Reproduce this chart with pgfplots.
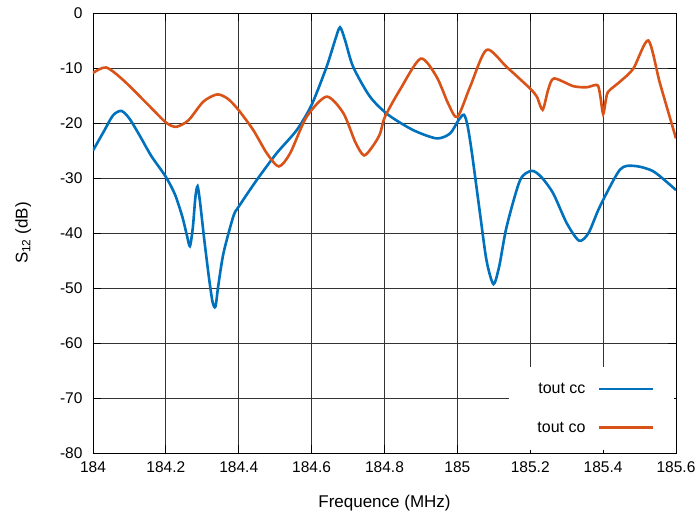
\documentclass[border=0pt]{standalone}
\usepackage{fontspec}
\setmainfont{Liberation Sans}
\usepackage{pgfplots}
\pgfplotsset{compat=1.18}
\usetikzlibrary{calc}
\definecolor{cblue}{RGB}{0,114,189}
\definecolor{corange}{RGB}{217,83,25}
\begin{document}
\begin{tikzpicture}
\begin{axis}[
  scale only axis,
  width=583pt, height=440pt,
  xmin=184, xmax=185.6, ymin=-80, ymax=0,
  xtick={184,184.2,184.4,184.6,184.8,185,185.2,185.4,185.6},
  ytick={-80,-70,-60,-50,-40,-30,-20,-10,0},
  /pgf/number format/assume math mode=true,
  xticklabel style={/pgf/number format/fixed,/pgf/number format/precision=1, yshift=-5pt},
  yticklabel style={xshift=-7pt},
  tick label style={font=\fontsize{15.5}{18}\selectfont},
  label style={font=\fontsize{17}{20}\selectfont},
  xlabel={Frequence (MHz)},
  ylabel={S\textsubscript{12} (dB)},
  xlabel style={yshift=-16pt},
  ylabel style={yshift=22pt},
  grid=major,
  major grid style={black!80, line width=0.8pt},
  axis line style={black, line width=0.9pt},
  tick style={black, line width=0.9pt},
  tick align=inside,
  major tick length=8pt,
  legend style={at={(0.997,0.196)}, anchor=north east, draw=none, fill=white,
    font=\fontsize{16}{19}\selectfont, inner xsep=20pt, inner ysep=14pt,
    row sep=23pt, column sep=10pt},
  legend plot pos=right,
  legend cell align=right,
  legend image code/.code={\draw[#1] (0pt,0pt) -- (54pt,0pt);},
]
\addplot[cblue, line width=2.6pt, smooth, tension=0.45] coordinates {
(184.000,-25.0) (184.030,-21.5) (184.055,-18.6) (184.078,-17.8) (184.100,-19.2)
(184.130,-22.5) (184.160,-26.0) (184.200,-29.8) (184.225,-33.0) (184.245,-37.0)
(184.258,-40.5) (184.266,-42.4) (184.274,-39.0) (184.281,-33.5) (184.287,-31.5)
(184.294,-34.5) (184.305,-41.0) (184.318,-48.0) (184.328,-52.5) (184.336,-53.4)
(184.344,-49.5) (184.358,-43.7) (184.385,-37.0) (184.400,-35.2) (184.449,-30.4)
(184.504,-25.5) (184.559,-21.3) (184.600,-16.7) (184.641,-9.8) (184.665,-4.8)
(184.678,-2.6) (184.692,-5.0) (184.714,-9.8) (184.760,-15.2) (184.810,-18.5)
(184.879,-21.3) (184.943,-22.8) (184.980,-21.9) (185.003,-19.5) (185.018,-18.5)
(185.028,-20.5) (185.040,-25.5) (185.062,-36.4) (185.080,-45.0) (185.099,-49.3)
(185.115,-46.0) (185.135,-38.9) (185.172,-30.4) (185.204,-28.7) (185.230,-29.8)
(185.263,-32.8) (185.300,-38.2) (185.334,-41.4) (185.360,-40.0) (185.391,-35.2)
(185.446,-28.5) (185.485,-27.8) (185.538,-28.8) (185.600,-32.2)
};
\addlegendentry{\hspace*{6pt}tout cc}
\addplot[corange, line width=2.6pt, smooth, tension=0.45] coordinates {
(184.000,-10.9) (184.036,-9.9) (184.083,-12.2) (184.156,-17.0) (184.200,-19.9)
(184.228,-20.7) (184.262,-19.5) (184.303,-16.1) (184.341,-14.8) (184.370,-15.6)
(184.399,-17.6) (184.440,-21.3) (184.477,-25.5) (184.510,-27.9) (184.541,-25.5)
(184.586,-18.9) (184.641,-15.2) (184.687,-18.2) (184.720,-23.5) (184.744,-25.9)
(184.770,-24.0) (184.788,-21.9) (184.801,-18.9) (184.842,-14.0) (184.899,-8.3)
(184.943,-11.6) (184.975,-16.5) (185.000,-18.9) (185.035,-13.4) (185.080,-6.7)
(185.135,-9.8) (185.199,-13.7) (185.218,-15.2) (185.234,-17.6) (185.249,-14.0)
(185.265,-11.9) (185.318,-13.3) (185.355,-13.5) (185.384,-13.1) (185.392,-15.0)
(185.400,-18.4) (185.407,-16.0) (185.414,-14.3) (185.446,-12.5) (185.483,-10.1)
(185.524,-5.0) (185.556,-12.8) (185.600,-22.8)
};
\addlegendentry{\hspace*{6pt}tout co}
\end{axis}
\pgfresetboundingbox
\path ($(current axis.south west)+(-93pt,-62pt)$) rectangle ($(current axis.north east)+(21pt,13pt)$);
\end{tikzpicture}
\end{document}
